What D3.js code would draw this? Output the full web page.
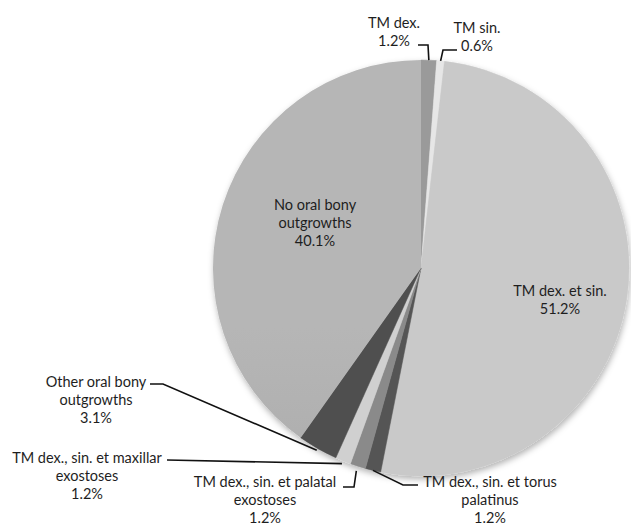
<!DOCTYPE html>
<html>
<head>
<meta charset="utf-8">
<script src="https://cdn.jsdelivr.net/npm/d3@7"></script>
<style>
  html, body { margin: 0; padding: 0; background: #ffffff; }
  svg { display: block; }
</style>
</head>
<body>
<svg id="chart" width="631" height="526"></svg>
<script>
// ---- data ----
const categories = [
  "TM dex.",
  "TM sin.",
  "TM dex. et sin.",
  "TM dex., sin. et torus palatinus",
  "TM dex., sin. et palatal exostoses",
  "TM dex., sin. et maxillar exostoses",
  "Other oral bony outgrowths",
  "No oral bony outgrowths"
];
const values = [1.2, 0.6, 51.2, 1.2, 1.2, 1.2, 3.1, 40.1];
const valueLabels = ["1.2%", "0.6%", "51.2%", "1.2%", "1.2%", "1.2%", "3.1%", "40.1%"];
const nameLines = [
  ["TM dex."],
  ["TM sin."],
  ["TM dex. et sin."],
  ["TM dex., sin. et torus", "palatinus"],
  ["TM dex., sin. et palatal", "exostoses"],
  ["TM dex., sin. et maxillar", "exostoses"],
  ["Other oral bony", "outgrowths"],
  ["No oral bony", "outgrowths"]
];

// ---- styles / layout ----
const colors = ["#9a9a9a", "#e6e6e6", "#c9c9c9", "#555555", "#8a8a8a", "#d0d0d0", "#505050", "url(#noGrad)"];
const cx = 421, cy = 268, R = 208;
const lineH = 18;
// label anchor (centre x, first baseline y) and leader polyline (after the point on the slice)
const labelLayout = [
  { x: 394, y: 28, leaderR: 0,  leader: [[428, 45], [418, 45]] },
  { x: 477, y: 33, leaderR: 0,  leader: [[443, 50], [457, 50]] },
  { x: 560, y: 296, leaderR: null, leader: null },
  { x: 490, y: 487, leaderR: 0, leader: [[403, 485], [418, 485]] },
  { x: 265, y: 487, leaderR: 5, leader: [[354, 487], [343, 487]] },
  { x: 87,  y: 463, leaderR: 3, leader: [[167, 460]] },
  { x: 96,  y: 387, leaderR: 2, leader: [[163, 384], [150, 384]] },
  { x: 315, y: 210, leaderR: null, leader: null }
];

const svg = d3.select("#chart");
const defs = svg.append("defs");

const grad = defs.append("linearGradient")
  .attr("id", "noGrad")
  .attr("gradientUnits", "userSpaceOnUse")
  .attr("x1", 0).attr("y1", cy - R).attr("x2", 0).attr("y2", cy + R);
grad.append("stop").attr("offset", "0%").attr("stop-color", "#b6b6b6");
grad.append("stop").attr("offset", "100%").attr("stop-color", "#9e9e9e");

const shadow = defs.append("filter").attr("id", "shadow")
  .attr("x", "-10%").attr("y", "-10%").attr("width", "120%").attr("height", "120%");
shadow.append("feDropShadow")
  .attr("dx", 1).attr("dy", 3).attr("stdDeviation", 3)
  .attr("flood-color", "#000").attr("flood-opacity", 0.3);

const pie = d3.pie().sort(null).value(d => d).startAngle(0).endAngle(2 * Math.PI);
const arcs = pie(values);
const arc = d3.arc().innerRadius(0).outerRadius(R);

const g = svg.append("g").attr("transform", `translate(${cx},${cy})`);

g.append("g").attr("filter", "url(#shadow)")
  .selectAll("path")
  .data(arcs)
  .enter().append("path")
  .attr("d", arc)
  .attr("fill", (d, i) => colors[i])
  .attr("stroke", (d, i) => i === 7 ? "none" : colors[i])
  .attr("stroke-width", 0.5);

// leader lines
const leaderData = arcs.map((d, i) => ({ d, i, lay: labelLayout[i] })).filter(o => o.lay.leader);
svg.append("g").selectAll("path")
  .data(leaderData)
  .enter().append("path")
  .attr("fill", "none")
  .attr("stroke", "#111")
  .attr("stroke-width", 1.6)
  .attr("d", o => {
    const a = (o.d.startAngle + o.d.endAngle) / 2;
    const rr = R + o.lay.leaderR;
    const p0 = [cx + rr * Math.sin(a), cy - rr * Math.cos(a)];
    return d3.line()([p0, ...o.lay.leader]);
  });

// labels
const labels = svg.append("g")
  .attr("font-family", "Lato, 'Open Sans', sans-serif")
  .attr("font-size", "14.5px")
  .attr("fill", "#1e1e1e")
  .attr("text-anchor", "middle");

categories.forEach((c, i) => {
  const lines = nameLines[i].concat([valueLabels[i]]);
  const lay = labelLayout[i];
  const t = labels.append("text").attr("x", lay.x).attr("y", lay.y);
  lines.forEach((ln, j) => {
    t.append("tspan").attr("x", lay.x).attr("y", lay.y + j * lineH).text(ln);
  });
});
</script>
</body>
</html>
